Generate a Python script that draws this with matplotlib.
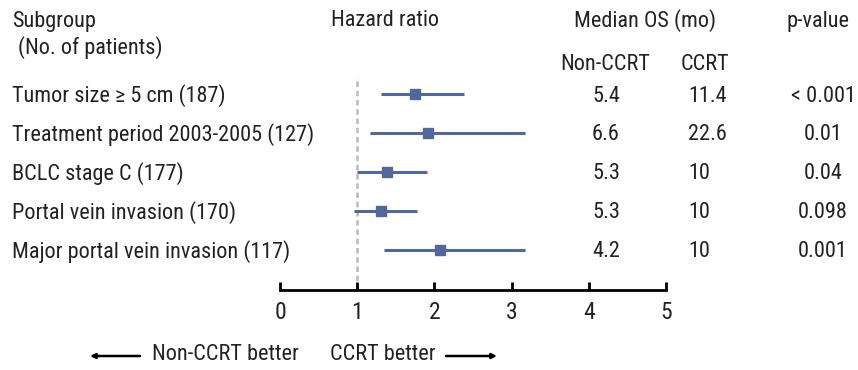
import matplotlib
matplotlib.use('Agg')
import matplotlib.pyplot as plt
from matplotlib.patches import FancyArrowPatch

plt.rcParams['font.family'] = ['Roboto Condensed', 'DejaVu Sans']

# data
subgroups = ['Tumor size \u2265 5 cm (187)', 'Treatment period 2003-2005 (127)',
             'BCLC stage C (177)', 'Portal vein invasion (170)',
             'Major portal vein invasion (117)']
hr = [1.75, 1.92, 1.38, 1.31, 2.07]
hr_lo = [1.31, 1.16, 1.00, 0.96, 1.35]
hr_hi = [2.38, 3.18, 1.91, 1.78, 3.17]
os_non_ccrt = ['5.4', '6.6', '5.3', '5.3', '4.2']
os_ccrt = ['11.4', '22.6', '10', '10', '10']
p_values = ['< 0.001', '0.01', '0.04', '0.098', '0.001']
x_ticks = [0, 1, 2, 3, 4, 5]

W, H = 858, 370
fig = plt.figure(figsize=(W / 100, H / 100), dpi=100)

# forest plot axes: x 0..5 spans pixels 280..666, rows span pixels 77..290
ax = fig.add_axes([280 / W, (H - 290) / H, 386 / W, 213 / H])
ax.set_xlim(0, 5)
ax.set_ylim(5.03, -0.445)
color = '#53689a'
rows = list(range(len(subgroups)))
ax.hlines(rows, hr_lo, hr_hi, color=color, lw=2.2)
ax.plot(hr, rows, 's', color=color, ms=7)
ax.axvline(1, color='#bbbbbb', lw=1.8, ls=(0, (2.2, 1.5)), zorder=0)

for s in ['top', 'right', 'left']:
    ax.spines[s].set_visible(False)
ax.spines['bottom'].set_linewidth(2)
ax.set_yticks([])
ax.set_xticks(x_ticks)
ax.tick_params(axis='x', direction='in', length=6, width=2, pad=8,
               labelsize=17, colors='black')
ax.set_xticklabels([str(t) for t in x_ticks], color='#222222')

fs = 16
tc = '#222222'
def px(x, y):
    return x / W, 1 - y / H

# row texts
for i, r in enumerate(rows):
    y = 1 - (96 + 38.9 * r) / H
    fig.text(12 / W, y, subgroups[i], fontsize=fs, color=tc, va='center', ha='left')
    fig.text(606 / W, y, os_non_ccrt[i], fontsize=fs, color=tc, va='center', ha='center')
    fig.text(688 / W, y, os_ccrt[i], fontsize=fs, color=tc, va='center', ha='left')
    fig.text(823 / W, y, p_values[i], fontsize=fs, color=tc, va='center', ha='center')

# headers
fig.text(*px(12, 21), 'Subgroup', fontsize=fs, color=tc, va='center', ha='left')
fig.text(*px(18, 48), '(No. of patients)', fontsize=fs, color=tc, va='center', ha='left')
fig.text(*px(385, 21), 'Hazard ratio', fontsize=fs, color=tc, va='center', ha='center')
fig.text(*px(645, 21), 'Median OS (mo)', fontsize=fs, color=tc, va='center', ha='center')
fig.text(*px(818, 21), 'p-value', fontsize=fs, color=tc, va='center', ha='center')
fig.text(*px(605, 64), 'Non-CCRT', fontsize=fs, color=tc, va='center', ha='center')
fig.text(*px(705, 64), 'CCRT', fontsize=fs, color=tc, va='center', ha='center')

# direction arrows
fig.text(*px(152, 354), 'Non-CCRT better', fontsize=fs, color=tc, va='center', ha='left')
fig.text(*px(436, 354), 'CCRT better', fontsize=fs, color=tc, va='center', ha='right')
arrow = dict(arrowstyle='-|>', color='black', lw=1.8, mutation_scale=7, shrinkA=0, shrinkB=0)
fig.add_artist(FancyArrowPatch(px(140, 356), px(90, 356), transform=fig.transFigure, **arrow))
fig.add_artist(FancyArrowPatch(px(446, 356), px(497, 356), transform=fig.transFigure, **arrow))

fig.savefig('out.png', dpi=100)
